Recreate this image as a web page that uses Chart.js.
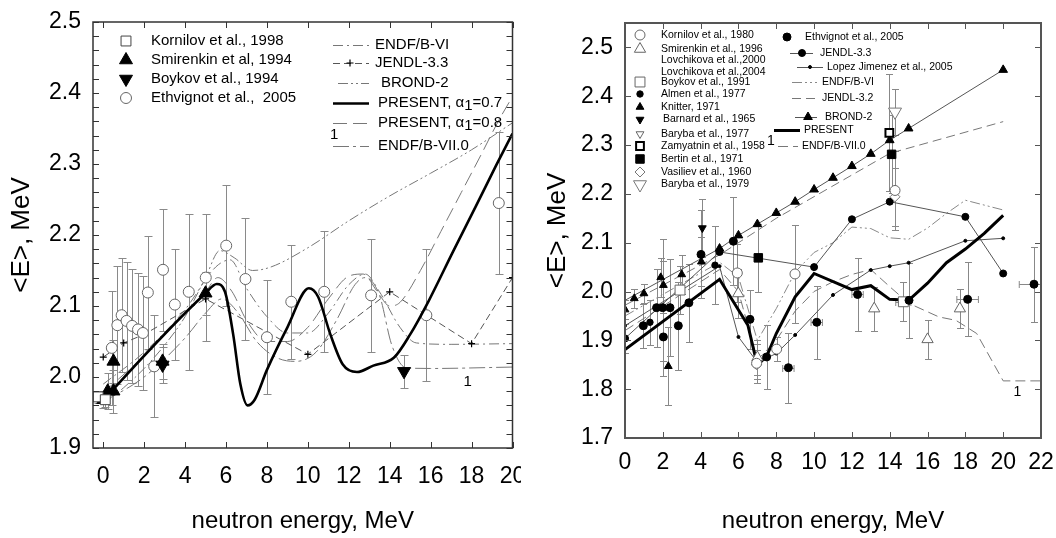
<!DOCTYPE html>
<html>
<head>
<meta charset="utf-8">
<script src="https://cdn.jsdelivr.net/npm/chart.js"></script>
<style>
  html, body { margin: 0; padding: 0; background: #fff; }
  body { width: 1056px; height: 538px; position: relative; overflow: hidden; }
  canvas { position: absolute; top: 0; }
  #left { left: 0; }
  #right { left: 535px; }
</style>
</head>
<body>
<canvas id="left" width="521" height="538"></canvas>
<canvas id="right" width="521" height="538"></canvas>
<script>
const FONT = '"Liberation Sans", Arial, Helvetica, sans-serif';

/* ======================================================
   LEFT PANEL DATA  (energy MeV, <E> MeV, dy [, dx])
====================================================== */
const leftXTicks = [0, 2, 4, 6, 8, 10, 12, 14, 16, 18, 20];
const leftXLabels = ["0", "2", "4", "6", "8", "10", "12", "14", "16", "18", "20"];
const leftYTicks = [1.9, 2.0, 2.1, 2.2, 2.3, 2.4, 2.5];
const leftYLabels = ["1.9", "2.0", "2.1", "2.2", "2.3", "2.4", "2.5"];

const kornilov98 = [[-0.25, 1.972, 0.008], [0.1, 1.968, 0.01]];
const smirenkin94 = [[0.0, 1.968, 0.012], [0.22, 1.98, 0.025], [0.5, 2.022, 0.03], [0.5, 1.98, 0.03], [2.9, 2.022, 0.025], [5.0, 2.118, 0.03]];
const boykov94 = [[2.9, 2.017, 0.025], [14.7, 2.008, 0.023]];
const ethvignot05L = [
  [0.42, 2.041, 0.08], [0.69, 2.073, 0.083], [0.9, 2.087, 0.08], [1.14, 2.079, 0.083],
  [1.41, 2.072, 0.08], [1.7, 2.067, 0.08], [1.94, 2.062, 0.08], [2.18, 2.119, 0.08],
  [2.49, 2.015, 0.072], [2.92, 2.151, 0.086], [3.5, 2.102, 0.078], [4.18, 2.12, 0.11],
  [5.01, 2.14, 0.09], [6.01, 2.185, 0.085], [6.95, 2.138, 0.086], [8.0, 2.056, 0.08],
  [9.19, 2.106, 0.08], [10.8, 2.12, 0.085], [13.09, 2.115, 0.08], [15.79, 2.087, 0.093],
  [19.33, 2.245, 0.10],
];

const present07 = [
  [0.05, 1.968], [0.5, 1.983], [5.0, 2.118], [5.55, 2.131], [5.95, 2.12], [6.35, 2.06],
  [6.7, 1.99], [7.05, 1.96], [7.4, 1.968], [8.0, 2.01], [9.0, 2.07], [10.05, 2.125],
  [10.5, 2.113], [11.1, 2.06], [11.7, 2.018], [12.4, 2.007], [13.2, 2.016], [14.2, 2.027],
  [15.0, 2.06], [15.9, 2.107], [17.1, 2.177], [18.2, 2.24], [19.2, 2.298], [20.0, 2.343],
];
const present08L = [
  [0, 1.978], [2, 2.03], [4, 2.09], [5, 2.12], [5.6, 2.14], [6.3, 2.12], [7, 2.08], [8, 2.05],
  [9, 2.05], [10, 2.07], [11, 2.11], [12, 2.142], [12.7, 2.145], [13.4, 2.12], [14, 2.1],
  [14.5, 2.105], [15.5, 2.15], [16.5, 2.205], [17.5, 2.26], [18.5, 2.315], [19.3, 2.36], [20, 2.395],
];
const jendl33L = [[0, 2.028], [1, 2.048], [2, 2.06], [5, 2.11], [10, 2.032], [14, 2.12], [18, 2.047], [20, 2.14]];
const endfb6L = [
  [0, 1.99], [2, 2.035], [4, 2.095], [5.5, 2.155], [6.2, 2.165], [7, 2.125], [8, 2.085], [9, 2.062],
  [10, 2.062], [11, 2.09], [12, 2.13], [12.8, 2.145], [13.5, 2.12], [14.5, 2.07], [15.3, 2.048],
  [17, 2.046], [20, 2.047],
];
const brond2L = [
  [0, 1.962], [1, 1.985], [2, 2.012], [3, 2.045], [4, 2.085], [5, 2.14], [5.7, 2.178], [6.4, 2.168],
  [7.3, 2.15], [8.2, 2.155], [10, 2.182], [12, 2.22], [14, 2.255], [16, 2.287], [18, 2.32], [20, 2.358],
];
const endfb7L = [
  [0, 1.965], [2, 2.0], [4, 2.055], [5, 2.09], [5.8, 2.11], [6.6, 2.09], [7.5, 2.05], [8.5, 2.027],
  [9.4, 2.022], [10.4, 2.035], [11.4, 2.08], [12.3, 2.13], [12.8, 2.14], [13.5, 2.115], [14.1, 2.045],
  [14.8, 2.013], [16, 2.012], [20, 2.014],
];

/* ======================================================
   RIGHT PANEL DATA
====================================================== */
const rightXTicks = [0, 2, 4, 6, 8, 10, 12, 14, 16, 18, 20, 22];
const rightXLabels = ["0", "2", "4", "6", "8", "10", "12", "14", "16", "18", "20", "22"];
const rightYTicks = [1.7, 1.8, 1.9, 2.0, 2.1, 2.2, 2.3, 2.4, 2.5];
const rightYLabels = ["1.7", "1.8", "1.9", "2.0", "2.1", "2.2", "2.3", "2.4", "2.5"];

const ethvignot05R = [
  [0.97, 1.93, 0.045], [1.67, 1.967, 0.08], [1.99, 1.967, 0.14], [2.03, 1.907, 0.05],
  [2.38, 1.967, 0.1], [2.82, 1.93, 0.09], [3.38, 1.977, 0.08], [4.02, 2.076, 0.09],
  [5.73, 2.103, 0.09], [6.61, 1.943, 0.06], [7.49, 1.866, 0.065], [8.64, 1.844, 0.072, 0.3],
  [10.14, 1.937, 0.075, 0.3], [12.3, 1.994, 0.075, 0.3], [15.02, 1.982, 0.077],
  [18.12, 1.984, 0.076, 0.57], [21.63, 2.015, 0.077, 0.78],
];
const almen77 = [[0.0, 1.904, 0.03], [1.32, 1.937, 0.046], [4.76, 2.054, 0.08]];
const knitter71 = [[0.0, 1.963, 0.02], [0.49, 1.986, 0.02], [1.0, 1.996, 0.02], [1.89, 2.029, 0.04], [2.03, 2.013, 0.05], [2.29, 1.847, 0.08], [3.0, 2.035, 0.04], [4.04, 2.061, 0.05]];
const barnard65 = [[4.09, 2.13, 0.06]];
const kornilov80 = [[5.94, 2.038, 0.06], [6.96, 1.853, 0.04], [8.02, 1.882, 0.025], [8.99, 2.036, 0.1], [14.28, 2.207, 0.08]];
const smirenkin96 = [[5.99, 1.996, 0.05], [7.0, 1.865, 0.035], [13.18, 1.965, 0.045], [16.0, 1.902, 0.04], [17.71, 1.965, 0.04]];
const boykov91 = [[2.91, 2.003, 0.05], [14.72, 1.979, 0.04, 0.4]];
const zamyatnin58 = [[13.98, 2.325, 0.12]];
const bertin71 = [[7.05, 2.069, 0.07], [14.1, 2.281, 0.08]];
const vasiliev60 = [[14.28, 2.194, 0.06], [6.96, 1.85, 0.03]];
const baryba79 = [[14.28, 2.368, 0.047]];

const presentR = [
  [0, 1.881], [5, 2.025], [6.5, 1.931], [7, 1.849], [7.5, 1.868], [8, 1.914], [9, 1.989], [10, 2.037],
  [12, 2.004], [13, 2.012], [14, 1.984], [15, 1.982], [16, 2.017], [17, 2.059], [18, 2.087], [19, 2.119], [20, 2.156],
];
const jendl33R = [[0, 1.904], [5, 2.081], [10, 2.05], [12, 2.148], [14, 2.184], [18, 2.153], [20, 2.037]];
const lopezR = [[0, 1.93], [5, 2.052], [6, 1.907], [7, 1.855], [8, 1.873], [9, 1.911], [11, 1.993], [13, 2.044], [14, 2.052], [15, 2.059], [18, 2.104], [20, 2.109]];
const endfb6R = [[0, 1.95], [5, 2.06], [6, 2.03], [7, 1.9], [8, 1.965], [9, 2.04], [10, 2.08], [11, 2.1], [12, 2.132], [13, 2.129], [14, 2.11], [15, 2.107], [16, 2.13], [17, 2.16], [18, 2.187], [20, 2.167]];
const jendl32R = [[0, 1.972], [5, 2.075], [8, 2.15], [14, 2.283], [20, 2.348]];
const brond2R = [[0, 1.982], [5, 2.088], [6, 2.115], [7, 2.138], [8, 2.161], [9, 2.184], [10, 2.209], [11, 2.233], [12, 2.257], [13, 2.282], [14, 2.31], [15, 2.334], [20, 2.454]];
const endfb7R = [[0, 1.92], [5, 2.045], [6, 2.0], [7, 1.86], [8, 1.9], [9, 1.96], [10, 2.0], [11, 2.02], [12, 2.035], [13, 2.045], [14, 2.01], [15, 1.976], [16.6, 1.948], [17.5, 1.941], [18.6, 1.914], [20, 1.817], [22, 1.817]];

/* ======================================================
   STYLES
====================================================== */
const M = {
  kornilov98: { pointStyle: "rect", radius: 7, fill: "#fff", stroke: "#444", bw: 1 },
  smirenkin94: { pointStyle: "triangle", radius: 7.5, fill: "#000", stroke: "#000", bw: 1 },
  boykov94: { pointStyle: "triangle", radius: 7.5, rotation: 180, fill: "#000", stroke: "#000", bw: 1 },
  ethvignot05L: { pointStyle: "circle", radius: 5.5, fill: "#fff", stroke: "#666", bw: 1 },
  cross: { pointStyle: "cross", radius: 3.5, fill: "#000", stroke: "#000", bw: 1.2 },

  ethvignot05R: { pointStyle: "circle", radius: 4, fill: "#000", stroke: "#000", bw: 1 },
  kornilov80: { pointStyle: "circle", radius: 5, fill: "#fff", stroke: "#666", bw: 1 },
  smirenkin96: { pointStyle: "triangle", radius: 6.5, fill: "#fff", stroke: "#666", bw: 1 },
  boykov91: { pointStyle: "rect", radius: 7, fill: "#fff", stroke: "#666", bw: 1 },
  almen77: { pointStyle: "circle", radius: 3.2, fill: "#000", stroke: "#000", bw: 1 },
  knitter71: { pointStyle: "triangle", radius: 4.5, fill: "#000", stroke: "#000", bw: 1 },
  barnard65: { pointStyle: "triangle", radius: 4.5, rotation: 180, fill: "#000", stroke: "#000", bw: 1 },
  baryba77: { pointStyle: "triangle", radius: 4.5, rotation: 180, fill: "#fff", stroke: "#666", bw: 1 },
  zamyatnin58: { pointStyle: "rect", radius: 5.5, fill: "#fff", stroke: "#000", bw: 2 },
  bertin71: { pointStyle: "rect", radius: 6, fill: "#000", stroke: "#000", bw: 1 },
  vasiliev60: { pointStyle: "rectRot", radius: 5, fill: "#fff", stroke: "#777", bw: 1 },
  baryba79: { pointStyle: "triangle", radius: 7.5, rotation: 180, fill: "#fff", stroke: "#777", bw: 1 },
  jendlDot: { pointStyle: "circle", radius: 3.5, fill: "#000", stroke: "#000", bw: 1 },
  lopezDot: { pointStyle: "circle", radius: 1.5, fill: "#000", stroke: "#000", bw: 1 },
  brondTri: { pointStyle: "triangle", radius: 5, fill: "#000", stroke: "#000", bw: 1 },
};

const S = {
  present07: { color: "#000", width: 2.6, smooth: true },
  present08L: { color: "#777", width: 1, dash: [14, 6], smooth: true },
  jendl33L: { color: "#555", width: 1, dash: [7, 4] },
  endfb6L: { color: "#777", width: 1, dash: [10, 4, 2, 4], smooth: true },
  brond2L: { color: "#777", width: 1, dash: [10, 3, 2, 3, 2, 3], smooth: true },
  endfb7L: { color: "#777", width: 1, dash: [16, 4, 3, 4], smooth: true },

  presentR: { color: "#000", width: 3 },
  jendl33R: { color: "#555", width: 1 },
  lopezR: { color: "#555", width: 1 },
  endfb6R: { color: "#888", width: 1, dash: [10, 3, 2, 3, 2, 3] },
  jendl32R: { color: "#777", width: 1, dash: [9, 5] },
  brond2R: { color: "#555", width: 1 },
  endfb7R: { color: "#777", width: 1, dash: [10, 5] },
};

/* ======================================================
   DATASET HELPERS
====================================================== */
function xy(arr) {
  return arr.map((p) => ({ x: p[0], y: p[1] }));
}

function markStyle(m) {
  return {
    pointStyle: m.pointStyle,
    pointRadius: m.radius,
    pointRotation: m.rotation || 0,
    pointBackgroundColor: m.fill,
    pointBorderColor: m.stroke,
    pointBorderWidth: m.bw,
  };
}

function points(label, arr, m) {
  return Object.assign({ label, data: xy(arr), errors: arr, showLine: false }, markStyle(m));
}

function curve(label, arr, s, m) {
  const ds = {
    label,
    data: xy(arr),
    showLine: true,
    borderColor: s.color,
    borderWidth: s.width,
    borderDash: s.dash || [],
    cubicInterpolationMode: s.smooth ? "monotone" : "default",
    tension: 0,
    pointRadius: 0,
  };
  if (m) Object.assign(ds, markStyle(m));
  return ds;
}

/* ======================================================
   PLUGINS
====================================================== */
const errorBars = {
  id: "errorBars",
  beforeDatasetsDraw(chart, args, o) {
    const { ctx, chartArea: a } = chart;
    const sx = chart.scales.x, sy = chart.scales.y;
    ctx.save();
    ctx.beginPath();
    ctx.rect(a.left, a.top, a.right - a.left, a.bottom - a.top);
    ctx.clip();
    ctx.strokeStyle = o.color;
    ctx.lineWidth = 1;
    chart.data.datasets.forEach((ds) => {
      if (!ds.errors) return;
      ds.errors.forEach((p) => {
        const px = Math.round(sx.getPixelForValue(p[0])) + 0.5;
        const py = Math.round(sy.getPixelForValue(p[1])) + 0.5;
        ctx.beginPath();
        if (p[2]) {
          const t = Math.round(sy.getPixelForValue(p[1] + p[2])) + 0.5;
          const b = Math.round(sy.getPixelForValue(p[1] - p[2])) + 0.5;
          ctx.moveTo(px, t); ctx.lineTo(px, b);
          ctx.moveTo(px - o.cap, t); ctx.lineTo(px + o.cap, t);
          ctx.moveTo(px - o.cap, b); ctx.lineTo(px + o.cap, b);
        }
        if (p[3]) {
          const l = sx.getPixelForValue(p[0] - p[3]);
          const r = sx.getPixelForValue(p[0] + p[3]);
          ctx.moveTo(l, py); ctx.lineTo(r, py);
          ctx.moveTo(l, py - o.cap); ctx.lineTo(l, py + o.cap);
          ctx.moveTo(r, py - o.cap); ctx.lineTo(r, py + o.cap);
        }
        ctx.stroke();
      });
    });
    ctx.restore();
  },
};

function drawMark(ctx, m, x, y) {
  ctx.fillStyle = m.fill;
  ctx.strokeStyle = m.stroke;
  ctx.lineWidth = m.bw;
  ctx.setLineDash([]);
  if (Chart.helpers && Chart.helpers.drawPoint) {
    Chart.helpers.drawPoint(ctx, { pointStyle: m.pointStyle, radius: m.radius, rotation: m.rotation || 0, borderWidth: m.bw }, x, y);
  } else {
    ctx.beginPath();
    ctx.arc(x, y, m.radius, 0, Math.PI * 2);
    ctx.fill();
    ctx.stroke();
  }
}

function drawText(ctx, item, offX, size) {
  ctx.font = (item.size || size) + "px " + FONT;
  ctx.fillStyle = "#000";
  ctx.textBaseline = "middle";
  ctx.textAlign = "left";
  let x = item.x - offX;
  const parts = item.parts || [[item.text, 0]];
  parts.forEach(([t, dy]) => {
    ctx.fillText(t, x, item.y + dy);
    x += ctx.measureText(t).width;
  });
}

const frame = {
  id: "frame",
  afterDatasetsDraw(chart, args, o) {
    const { ctx, chartArea: a } = chart;
    const sx = chart.scales.x, sy = chart.scales.y;
    ctx.save();

    // inward tick marks
    ctx.strokeStyle = o.color;
    ctx.lineWidth = 1;
    ctx.beginPath();
    o.xTicks.forEach((v) => {
      const p = Math.round(sx.getPixelForValue(v)) + 0.5;
      ctx.moveTo(p, a.bottom); ctx.lineTo(p, a.bottom - o.tickLen);
      ctx.moveTo(p, a.top); ctx.lineTo(p, a.top + o.tickLen);
    });
    const n = Math.round((o.yTo - o.yFrom) / o.yStep);
    for (let i = 0; i <= n; i++) {
      const p = Math.round(sy.getPixelForValue(o.yFrom + i * o.yStep)) + 0.5;
      ctx.moveTo(a.left, p); ctx.lineTo(a.left + o.tickLen, p);
      ctx.moveTo(a.right, p); ctx.lineTo(a.right - o.tickLen, p);
    }
    ctx.stroke();

    // frame
    ctx.lineWidth = o.width;
    ctx.strokeRect(a.left, a.top, a.right - a.left, a.bottom - a.top);

    // curve labels inside the plot
    o.notes.forEach((nt) => {
      drawText(ctx, { text: nt.text, x: sx.getPixelForValue(nt.x), y: sy.getPixelForValue(nt.y), size: nt.size }, 0, o.font);
    });

    // legend
    o.legend.forEach((it) => {
      if (it.line) {
        ctx.setLineDash(it.style.dash || []);
        ctx.lineWidth = it.style.width;
        ctx.strokeStyle = it.style.color;
        ctx.beginPath();
        ctx.moveTo(it.line[0] - o.offX, it.y + 0.5);
        ctx.lineTo(it.line[1] - o.offX, it.y + 0.5);
        ctx.stroke();
        ctx.setLineDash([]);
      }
      if (it.mark) drawMark(ctx, it.mark, it.mx - o.offX, it.y);
      drawText(ctx, it, o.offX, o.font);
    });
    ctx.restore();
  },
};

/* ======================================================
   LEGENDS (page coordinates)
====================================================== */
const leftLegend = [
  { text: "Kornilov et al., 1998", x: 151, y: 41, mark: M.kornilov98, mx: 126 },
  { text: "Smirenkin et al, 1994", x: 151, y: 60, mark: M.smirenkin94, mx: 126 },
  { text: "Boykov et al., 1994", x: 151, y: 79, mark: M.boykov94, mx: 126 },
  { text: "Ethvignot et al.,  2005", x: 151, y: 98, mark: M.ethvignot05L, mx: 126 },
  { text: "ENDF/B-VI", x: 375, y: 45, line: [333, 369], style: S.endfb6L },
  { text: "JENDL-3.3", x: 375, y: 63, line: [333, 369], style: S.jendl33L, mark: M.cross, mx: 350 },
  { text: "BROND-2", x: 381, y: 83, line: [338, 369], style: S.brond2L },
  { parts: [["PRESENT, α", 0], ["1", 3], ["=0.7", 0]], x: 378, y: 103, line: [333, 369], style: S.present07 },
  { parts: [["PRESENT, α", 0], ["1", 3], ["=0.8", 0]], x: 378, y: 123, line: [333, 369], style: S.present08L },
  { text: "1", x: 330, y: 135 },
  { text: "ENDF/B-VII.0", x: 378, y: 146, line: [333, 369], style: S.endfb7L },
];

const rightLegend = [
  { text: "Kornilov et al., 1980", x: 661, y: 35, mark: M.kornilov80, mx: 640 },
  { text: "Smirenkin et al., 1996", x: 661, y: 49, mark: M.smirenkin96, mx: 640 },
  { text: "Lovchikova et al.,2000", x: 661, y: 60.5 },
  { text: "Lovchikova et al.,2004", x: 661, y: 72 },
  { text: "Boykov et al., 1991", x: 661, y: 82, mark: M.boykov91, mx: 640 },
  { text: "Almen et al., 1977", x: 661, y: 94, mark: M.almen77, mx: 640 },
  { text: "Knitter, 1971", x: 661, y: 107, mark: M.knitter71, mx: 640 },
  { text: "Barnard et al., 1965", x: 663, y: 119.5, mark: M.barnard65, mx: 640 },
  { text: "Baryba et al., 1977", x: 661, y: 134, mark: M.baryba77, mx: 640 },
  { text: "Zamyatnin et al., 1958", x: 661, y: 146, mark: M.zamyatnin58, mx: 640 },
  { text: "Bertin et al., 1971", x: 661, y: 159, mark: M.bertin71, mx: 640 },
  { text: "Vasiliev et al., 1960", x: 661, y: 172, mark: M.vasiliev60, mx: 640 },
  { text: "Baryba et al., 1979", x: 661, y: 184.5, mark: M.baryba79, mx: 640 },
  { text: "Ethvignot et al., 2005", x: 805, y: 37, mark: M.ethvignot05R, mx: 787 },
  { text: "JENDL-3.3", x: 820, y: 53, line: [790, 813], style: S.jendl33R, mark: M.jendlDot, mx: 802 },
  { text: "Lopez Jimenez et al., 2005", x: 827, y: 67, line: [797, 823], style: S.lopezR, mark: M.lopezDot, mx: 810 },
  { text: "ENDF/B-VI", x: 822, y: 82, line: [792, 817], style: S.endfb6R },
  { text: "JENDL-3.2", x: 822, y: 98, line: [792, 817], style: S.jendl32R },
  { text: "BROND-2", x: 825, y: 117, line: [795, 817], style: S.brond2R, mark: M.brondTri, mx: 808 },
  { text: "PRESENT", x: 804, y: 130, line: [774, 800], style: S.presentR },
  { text: "1", x: 767, y: 141, size: 14 },
  { text: "ENDF/B-VII.0", x: 802, y: 146, line: [778, 798], style: S.endfb7R },
];

/* ======================================================
   SHARED AXIS BUILDER
====================================================== */
function axes(cfg) {
  return {
    x: {
      type: "linear", min: cfg.xMin, max: cfg.xMax,
      grid: { display: false, drawTicks: false }, border: { display: false },
      ticks: { color: "#000", font: { family: FONT, size: cfg.tickSize }, padding: cfg.xPad, maxRotation: 0, autoSkip: false, callback: (v, i) => cfg.xLabels[i] },
      afterBuildTicks: (s) => { s.ticks = cfg.xTicks.map((v) => ({ value: v })); },
      afterFit: (s) => { s.height = cfg.xHeight; s.paddingLeft = 0; s.paddingRight = 0; },
      title: { display: true, text: "neutron energy, MeV", color: "#000", font: { family: FONT, size: 24 }, padding: { top: 0, bottom: 2 } },
    },
    y: {
      type: "linear", min: cfg.yMin, max: cfg.yMax,
      grid: { display: false, drawTicks: false }, border: { display: false },
      ticks: { color: "#000", font: { family: FONT, size: cfg.tickSize }, padding: 12, autoSkip: false, callback: (v, i) => cfg.yLabels[i] },
      afterBuildTicks: (s) => { s.ticks = cfg.yTicks.map((v) => ({ value: v })); },
      afterFit: (s) => { s.width = cfg.yWidth; s.paddingTop = 0; s.paddingBottom = 0; },
      title: { display: true, text: "<E>, MeV", color: "#000", font: { family: FONT, size: 26 }, padding: { top: cfg.yTitlePad, bottom: 0 } },
    },
  };
}

/* ======================================================
   LEFT CHART
====================================================== */
new Chart(document.getElementById("left"), {
  type: "scatter",
  data: {
    datasets: [
      points("Kornilov et al., 1998", kornilov98, M.kornilov98),
      points("Smirenkin et al, 1994", smirenkin94, M.smirenkin94),
      points("Boykov et al., 1994", boykov94, M.boykov94),
      curve("PRESENT 0.7", present07, S.present07),
      points("Ethvignot et al., 2005", ethvignot05L, M.ethvignot05L),
      curve("JENDL-3.3", jendl33L, S.jendl33L, M.cross),
      curve("ENDF/B-VI", endfb6L, S.endfb6L),
      curve("BROND-2", brond2L, S.brond2L),
      curve("PRESENT 0.8", present08L, S.present08L),
      curve("ENDF/B-VII.0", endfb7L, S.endfb7L),
    ],
  },
  options: {
    responsive: false, animation: false, events: [],
    layout: { padding: { top: 22, right: 2, left: 0, bottom: 0 } },
    plugins: {
      legend: { display: false }, tooltip: { enabled: false },
      errorBars: { color: "#8a8a8a", cap: 4 },
      frame: {
        color: "#333", width: 1.5, tickLen: 6, xTicks: leftXTicks,
        yFrom: 1.9, yTo: 2.5, yStep: 0.02, offX: 0, font: 15,
        notes: [{ text: "1", x: 17.6, y: 1.993 }], legend: leftLegend,
      },
    },
    scales: axes({
      xMin: -0.5, xMax: 20, yMin: 1.9, yMax: 2.5, xTicks: leftXTicks, xLabels: leftXLabels,
      yTicks: leftYTicks, yLabels: leftYLabels, tickSize: 23, xPad: 15, xHeight: 90, yWidth: 93, yTitlePad: 6,
    }),
  },
  plugins: [errorBars, frame],
});

/* ======================================================
   RIGHT CHART
====================================================== */
const brondSet = curve("BROND-2", brond2R, S.brond2R, M.brondTri);
brondSet.pointRadius = (c) => (c.raw && c.raw.x === 0 ? 0 : M.brondTri.radius);

new Chart(document.getElementById("right"), {
  type: "scatter",
  data: {
    datasets: [
      points("Ethvignot et al., 2005", ethvignot05R, M.ethvignot05R),
      points("Almen et al., 1977", almen77, M.almen77),
      points("Knitter, 1971", knitter71, M.knitter71),
      points("Barnard et al., 1965", barnard65, M.barnard65),
      points("Kornilov et al., 1980", kornilov80, M.kornilov80),
      points("Smirenkin et al., 1996", smirenkin96, M.smirenkin96),
      points("Boykov et al., 1991", boykov91, M.boykov91),
      points("Zamyatnin et al., 1958", zamyatnin58, M.zamyatnin58),
      points("Bertin et al., 1971", bertin71, M.bertin71),
      points("Vasiliev et al., 1960", vasiliev60, M.vasiliev60),
      points("Baryba et al., 1979", baryba79, M.baryba79),
      curve("PRESENT", presentR, S.presentR),
      curve("JENDL-3.3", jendl33R, S.jendl33R, M.jendlDot),
      curve("Lopez Jimenez et al., 2005", lopezR, S.lopezR, M.lopezDot),
      brondSet,
      curve("ENDF/B-VI", endfb6R, S.endfb6R),
      curve("JENDL-3.2", jendl32R, S.jendl32R),
      curve("ENDF/B-VII.0", endfb7R, S.endfb7R),
    ],
  },
  options: {
    responsive: false, animation: false, events: [],
    layout: { padding: { top: 23, right: 15, left: 0, bottom: 0 } },
    plugins: {
      legend: { display: false }, tooltip: { enabled: false },
      errorBars: { color: "#888", cap: 3.5 },
      frame: {
        color: "#555", width: 2, tickLen: 6, xTicks: rightXTicks,
        yFrom: 1.7, yTo: 2.5, yStep: 0.1, offX: 535, font: 10.5,
        notes: [{ text: "1", x: 20.55, y: 1.794, size: 14 }], legend: rightLegend,
      },
    },
    scales: axes({
      xMin: 0, xMax: 22, yMin: 1.7, yMax: 2.55, xTicks: rightXTicks, xLabels: rightXLabels,
      yTicks: rightYTicks, yLabels: rightYLabels, tickSize: 23, xPad: 11, xHeight: 100, yWidth: 90, yTitlePad: 7,
    }),
  },
  plugins: [errorBars, frame],
});
</script>
</body>
</html>
